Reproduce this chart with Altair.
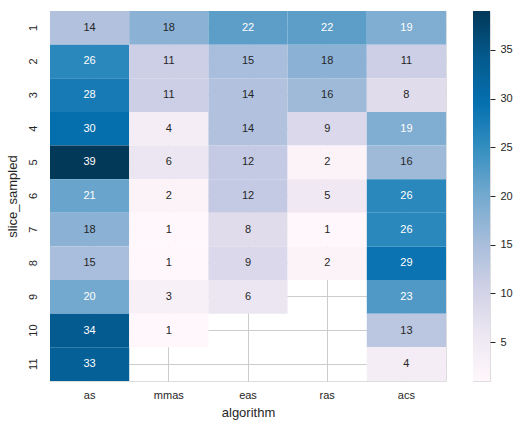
import altair as alt
import pandas as pd

algorithms = ["as", "mmas", "eas", "ras", "acs"]
slices = [str(i) for i in range(1, 12)]
vals_as = [14, 26, 28, 30, 39, 21, 18, 15, 20, 34, 33]
vals_mmas = [18, 11, 11, 4, 6, 2, 1, 1, 3, 1, None]
vals_eas = [22, 15, 14, 14, 12, 12, 8, 9, 6, None, None]
vals_ras = [22, 18, 16, 9, 2, 5, 1, 2, None, None, None]
vals_acs = [19, 11, 8, 19, 16, 26, 26, 29, 23, 13, 4]
cbar_ticks = [5, 10, 15, 20, 25, 30, 35]

# PuBu colormap stops (matplotlib / ColorBrewer)
pubu = ["#fff7fb", "#ece7f2", "#d0d1e6", "#a6bddb", "#74a9cf",
        "#3690c0", "#0570b0", "#045a8d", "#023858"]
vmin, vmax = 1, 39
stops = [vmin + (vmax - vmin) * i / (len(pubu) - 1) for i in range(len(pubu))]

series = {"as": vals_as, "mmas": vals_mmas, "eas": vals_eas, "ras": vals_ras, "acs": vals_acs}
rows = []
for alg in algorithms:
    for s, v in zip(slices, series[alg]):
        if v is not None:
            rows.append({"algorithm": alg, "slice_sampled": s, "value": v})
df = pd.DataFrame(rows)

TXT = "#262626"
FONT = "Liberation Sans"

x_enc = alt.X("algorithm:N", sort=algorithms, title="algorithm",
              scale=alt.Scale(paddingInner=0, paddingOuter=0),
              axis=alt.Axis(labelAngle=0, ticks=False, domain=False, grid=True,
                            gridColor="#cccccc", gridWidth=1, labelPadding=8,
                            labelFontSize=11, titleFontSize=13, titlePadding=6,
                            labelColor=TXT, titleColor=TXT, titleFontWeight="normal",
                            zindex=0))
y_enc = alt.Y("slice_sampled:N", sort=slices, title="slice_sampled",
              scale=alt.Scale(paddingInner=0, paddingOuter=0),
              axis=alt.Axis(labelAngle=270, ticks=False, domain=False, grid=True,
                            gridColor="#cccccc", gridWidth=1, labelPadding=12,
                            labelAlign="center", labelBaseline="bottom",
                            labelFontSize=11, titleFontSize=13, titlePadding=8,
                            labelColor=TXT, titleColor=TXT, titleFontWeight="normal",
                            zindex=0))

rect = alt.Chart(df).mark_rect(strokeWidth=0).encode(
    x=x_enc, y=y_enc,
    color=alt.Color("value:Q",
                    scale=alt.Scale(type="linear", domain=stops, range=pubu),
                    legend=None),
)

text = alt.Chart(df).mark_text(fontSize=11, font=FONT).encode(
    x=alt.X("algorithm:N", sort=algorithms),
    y=alt.Y("slice_sampled:N", sort=slices),
    text="value:Q",
    fill=alt.condition("datum.value >= 19", alt.value("#ffffff"), alt.value(TXT)),
)

heat = alt.layer(rect, text).properties(width=396, height=370)

# colorbar
grad = alt.Gradient(
    gradient="linear",
    stops=[alt.GradientStop(color=c, offset=(s - vmin) / (vmax - vmin)) for c, s in zip(pubu, stops)],
    x1=0, x2=0, y1=1, y2=0,
)
cb_df = pd.DataFrame({"lo": [vmin], "hi": [vmax]})
cbar = alt.Chart(cb_df).mark_rect(fill=grad, strokeWidth=0).encode(
    y=alt.Y("lo:Q", scale=alt.Scale(domain=[vmin, vmax], nice=False, zero=False),
            axis=alt.Axis(orient="right", values=cbar_ticks, title=None, grid=False,
                          domain=False, ticks=True, tickSize=5, tickColor=TXT,
                          tickWidth=1, labelPadding=5, labelFontSize=11,
                          labelColor=TXT)),
    y2="hi:Q",
    x=alt.value(0), x2=alt.value(17),
).properties(width=17, height=370)

chart = alt.hconcat(heat, cbar, spacing=25).properties(
    padding={"left": 5, "top": 10, "right": 5, "bottom": 5},
    background="white",
).configure_view(stroke=None).configure(font=FONT)

chart.save("out.html", embed_options={"renderer": "svg", "actions": False})
